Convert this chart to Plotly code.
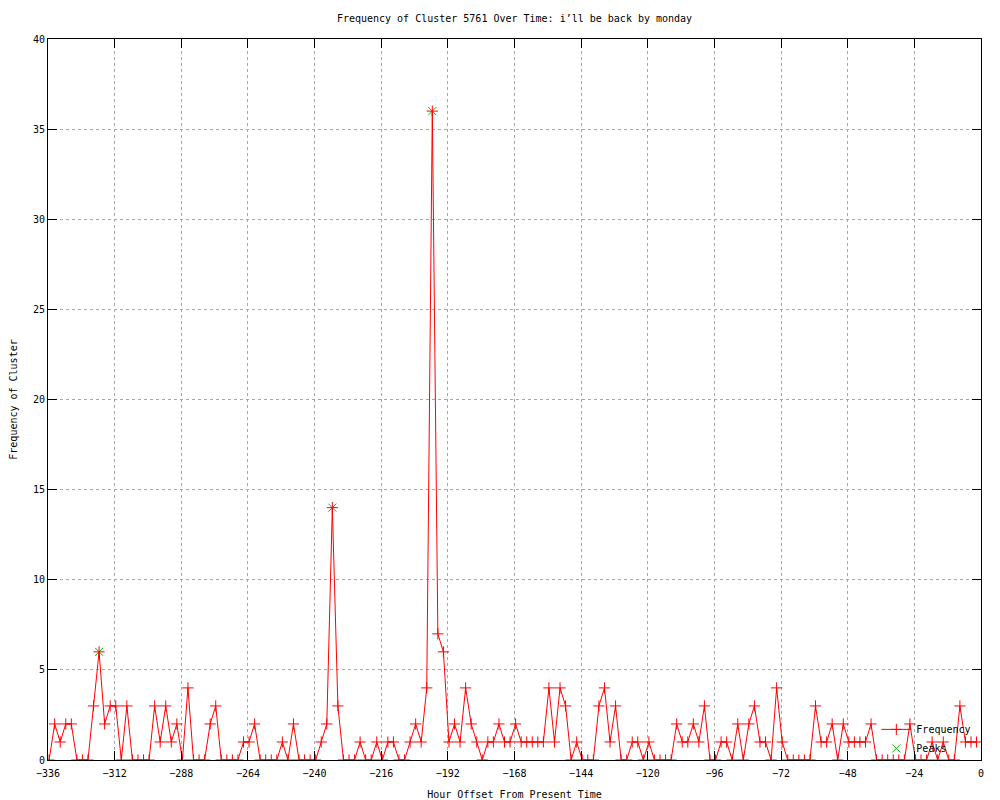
import plotly.graph_objects as go

# Time axis: one sample every 2 hours, starting just after -336 h
start_hour = -335.6
step_hours = 2.0

frequency = [
    0, 2, 1, 2, 2, 0, 0, 0, 3, 6,
    2, 3, 3, 0, 3, 0, 0, 0, 0, 3,
    1, 3, 1, 2, 0, 4, 0, 0, 0, 2,
    3, 0, 0, 0, 0, 1, 1, 2, 0, 0,
    0, 0, 1, 0, 2, 0, 0, 0, 0, 1,
    2, 14, 3, 0, 0, 0, 1, 0, 0, 1,
    0, 1, 1, 0, 0, 1, 2, 1, 4, 36,
    7, 6, 1, 2, 1, 4, 2, 1, 0, 1,
    1, 2, 1, 1, 2, 1, 1, 1, 1, 1,
    4, 1, 4, 3, 0, 1, 0, 0, 0, 3,
    4, 1, 3, 0, 0, 1, 1, 0, 1, 0,
    0, 0, 0, 2, 1, 1, 2, 1, 3, 0,
    0, 1, 1, 0, 2, 0, 2, 3, 1, 1,
    0, 4, 1, 0, 0, 0, 0, 0, 3, 1,
    1, 2, 0, 2, 1, 1, 1, 1, 2, 0,
    0, 0, 0, 0, 0, 2, 0, 0, 0, 1,
    0, 1, 0, 0, 3, 1, 1, 1,
]
hours = [start_hour + step_hours * i for i in range(len(frequency))]

peak_index = [9, 51, 69]
peak_hours = [hours[i] for i in peak_index]
peak_values = [frequency[i] for i in peak_index]

x_ticks = list(range(-336, 1, 24))
y_ticks = list(range(0, 41, 5))

FONT = "DejaVu Sans Mono"
W, H = 992, 792  # page body adds an 8px margin

fig = go.Figure()
# Peaks drawn first so the red crosses sit on top, as in the reference
fig.add_trace(go.Scatter(
    x=peak_hours, y=peak_values, mode="markers", name="Peaks", legendrank=2,
    marker=dict(symbol="x-thin-open", size=8,
                line=dict(color="#00c000", width=1), color="#00c000"),
))
fig.add_trace(go.Scatter(
    x=hours, y=frequency, mode="lines+markers", name="Frequency", legendrank=1,
    line=dict(color="#ff0000", width=1),
    marker=dict(symbol="cross-thin-open", size=8,
                line=dict(color="#ff0000", width=1), color="#ff0000"),
))

axis_common = dict(
    showline=True, linecolor="black", linewidth=1, mirror="ticks",
    ticks="inside", ticklen=9, tickcolor="black", tickwidth=1,
    showgrid=True, gridcolor="#a8a8a8", griddash="dot", gridwidth=1,
    zeroline=False, tickfont=dict(family=FONT, size=10, color="black"),
)

fig.update_layout(
    width=W, height=H,
    paper_bgcolor="white", plot_bgcolor="white",
    margin=dict(l=40, r=19, t=31, b=40, autoexpand=False),
    title=dict(text="Frequency of Cluster 5761 Over Time: i’ll be back by monday",
               x=0.5, xref="paper", y=1 - 10 / H, yanchor="middle",
               font=dict(family=FONT, size=10, color="black")),
    xaxis=dict(range=[-336, 0], tickvals=x_ticks, ticklabelstandoff=4,
               title=dict(text="Hour Offset From Present Time", standoff=12,
                          font=dict(family=FONT, size=10, color="black")),
               **axis_common),
    yaxis=dict(range=[0, 40], tickvals=y_ticks,
               title=dict(text="Frequency of Cluster", standoff=14,
                          font=dict(family=FONT, size=10, color="black")),
               **axis_common),
    legend=dict(x=0.995, xanchor="right", y=-0.004, yanchor="bottom",
                bgcolor="rgba(0,0,0,0)", font=dict(family=FONT, size=10, color="black"),
                tracegroupgap=0, itemwidth=30, traceorder="normal"),
    showlegend=True,
)

fig.write_html("out.html")
